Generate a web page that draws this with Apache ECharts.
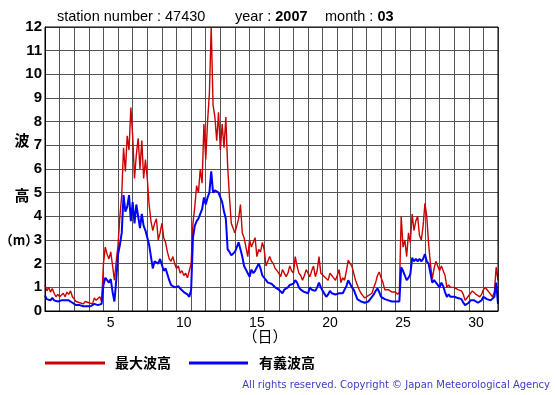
<!DOCTYPE html>
<html><head><meta charset="utf-8">
<script src="https://cdn.jsdelivr.net/npm/echarts@6/dist/echarts.min.js"></script>
<style>html,body{margin:0;padding:0;background:#fff}#c{width:555px;height:395px}</style>
</head><body><div id="c"></div>
<script>
// 3-hourly samples, t = i/8 days from 1st 00:00
const maxWave = [
 1.1,0.85,1.0,0.8,0.95,0.75,0.6,0.7,
 0.6,0.65,0.75,0.6,0.8,0.7,0.85,0.6,
 0.5,0.4,0.45,0.35,0.4,0.3,0.4,0.35,
 0.35,0.4,0.3,0.55,0.45,0.4,0.6,0.4,
 2.0,2.7,2.4,2.2,2.5,1.9,1.3,2.1,
 2.8,4.0,4.9,6.9,5.9,7.4,6.8,8.6,
 7.4,5.6,6.6,7.3,6.0,7.2,5.6,6.4,
 5.6,4.5,3.8,3.4,3.7,3.9,3.0,3.3,
 3.7,3.1,2.9,2.5,2.2,2.1,2.3,2.0,
 1.8,1.9,1.6,1.7,1.5,1.6,1.4,1.7,
 2.0,3.7,4.4,5.3,5.0,6.0,5.4,7.9,
 6.4,8.0,9.2,12.0,8.7,8.2,7.2,8.4,
 6.8,7.9,6.9,8.2,6.1,4.8,3.7,3.5,
 3.3,3.6,3.9,4.5,3.3,3.1,2.7,2.3,
 3.0,2.7,2.65,3.1,2.3,2.6,2.5,2.9,
 2.6,1.9,2.1,2.3,2.1,2.0,1.8,1.75,
 1.6,1.45,1.75,1.6,1.45,1.6,1.9,1.7,
 1.6,2.3,1.9,1.6,1.5,1.3,1.5,1.75,
 1.6,1.45,1.7,1.9,1.45,1.7,2.3,1.6,
 1.6,1.45,1.4,1.3,1.6,1.5,1.4,1.3,
 1.5,1.75,1.2,1.4,1.3,1.7,2.15,2.0,
 1.9,1.6,1.3,1.1,0.9,0.75,0.65,0.55,
 0.6,0.65,0.6,0.75,1.0,1.2,1.5,1.65,
 1.4,1.2,0.9,0.85,0.9,0.85,0.8,0.75,
 0.8,0.7,0.8,4.0,2.7,3.0,2.3,3.3,
 2.9,4.1,3.4,3.8,4.0,3.2,3.0,3.6,
 4.55,4.0,2.85,2.0,1.35,1.8,2.1,1.9,
 1.7,1.9,1.85,1.5,1.0,1.1,1.0,1.0,
 1.0,1.05,0.9,0.95,0.85,0.7,0.45,0.55,
 0.6,0.75,0.85,0.8,0.7,0.75,0.6,0.7,
 0.9,1.0,0.9,0.85,0.7,0.6,0.8,1.85,
 1.3
];
const sigWave = [
 0.65,0.5,0.55,0.45,0.55,0.45,0.45,0.4,
 0.4,0.45,0.4,0.45,0.4,0.45,0.4,0.35,
 0.3,0.25,0.3,0.25,0.2,0.2,0.25,0.2,
 0.2,0.2,0.25,0.3,0.3,0.25,0.3,0.3,
 1.1,1.4,1.3,1.2,1.35,0.8,0.4,1.3,
 2.4,2.8,3.3,4.9,4.2,4.4,4.9,3.8,
 4.6,3.7,4.5,4.0,3.5,4.1,3.6,3.4,
 3.4,2.8,2.3,1.8,2.1,2.1,2.0,2.2,
 2.2,1.7,1.8,1.8,1.3,1.1,1.05,1.0,
 1.0,1.05,0.95,0.9,0.8,0.8,0.7,0.6,
 0.9,3.1,3.6,3.8,3.9,4.1,4.3,4.8,
 4.5,4.8,5.0,5.9,5.0,5.1,5.1,5.0,
 5.0,4.6,4.2,3.9,2.6,2.5,2.35,2.4,
 2.5,2.7,2.9,2.85,2.3,1.9,1.75,1.8,
 1.45,1.75,1.6,1.7,1.7,2.0,1.8,1.5,
 1.45,1.3,1.2,1.2,1.15,1.1,1.0,1.0,
 0.9,0.85,0.75,0.9,0.85,1.0,1.1,1.15,
 1.15,1.3,1.2,1.0,0.9,0.85,0.8,0.75,
 0.75,1.0,0.9,0.95,0.85,1.0,1.2,1.0,
 0.85,0.9,0.6,0.7,0.85,0.75,0.7,0.7,
 0.7,0.75,0.8,0.75,0.75,1.05,1.3,1.15,
 1.0,0.9,0.7,0.5,0.45,0.4,0.35,0.35,
 0.35,0.4,0.4,0.6,0.7,0.85,0.95,0.8,
 0.6,0.55,0.5,0.5,0.45,0.45,0.4,0.45,
 0.4,0.35,0.4,1.85,1.7,1.5,1.3,1.4,
 1.55,2.25,2.1,2.2,2.1,2.2,2.1,2.2,
 2.4,2.1,2.0,1.6,1.2,1.3,1.3,1.1,
 1.0,1.2,1.05,0.8,0.6,0.7,0.6,0.6,
 0.6,0.6,0.55,0.6,0.5,0.35,0.25,0.3,
 0.35,0.45,0.4,0.45,0.4,0.35,0.3,0.45,
 0.6,0.55,0.5,0.5,0.45,0.5,0.6,1.2,
 0.3
];
const dayLabels = [5, 10, 15, 20, 25, 30];
const yTicks = [0,1,2,3,4,5,6,7,8,9,10,11,12];
const seriesNames = ['最大波高', '有義波高'];
const station = '47430', year = '2007', month = '03';

const toXY = arr => arr.map((v, i) => [i / 8, v]);
const chart = echarts.init(document.getElementById('c'), null, {renderer: 'canvas'});
const FONT = '"Liberation Sans", Arial, sans-serif';
const CJK = '"Noto Sans CJK JP", sans-serif';
const rich = {n: {fontSize: 14.5, fontFamily: FONT, fill: '#000'}, b: {fontSize: 14.5, fontFamily: FONT, fontWeight: 'bold', fill: '#000'}};
chart.setOption({
  animation: false,
  backgroundColor: '#fff',
  grid: {left: 45, top: 27, width: 453, height: 284, containLabel: false},
  xAxis: {
    type: 'value', min: 0, max: 31, interval: 1,
    axisLine: {show: true, lineStyle: {color: '#000', width: 1}},
    axisTick: {show: false},
    splitLine: {show: true, lineStyle: {color: '#555', width: 1}},
    axisLabel: {
      customValues: dayLabels.map(d => d - 0.5),
      formatter: v => String(Math.round(v + 0.5)),
      color: '#000', fontSize: 14, fontFamily: FONT, margin: 5
    }
  },
  yAxis: {
    type: 'value', min: 0, max: 12, interval: 1,
    axisLine: {show: true, lineStyle: {color: '#000', width: 1}},
    axisTick: {show: false},
    splitLine: {show: true, lineStyle: {color: '#555', width: 1}},
    axisLabel: {color: '#000', fontSize: 15, fontWeight: 'bold', fontFamily: FONT, margin: 3,
      formatter: v => yTicks.includes(v) ? String(v) : ''}
  },
  series: [
    {name: seriesNames[0], type: 'line', data: toXY(maxWave), showSymbol: false,
     lineStyle: {color: '#cc0000', width: 1.4}, z: 3},
    {name: seriesNames[1], type: 'line', data: toXY(sigWave), showSymbol: false,
     lineStyle: {color: '#0000ff', width: 2}, z: 4}
  ],
  graphic: [
    {type: 'rect', shape: {x: 45, y: 27, width: 453, height: 284}, style: {fill: 'none', stroke: '#000', lineWidth: 1}, z: 10, silent: true},
    {type: 'text', x: 57, y: 17, style: {text: '{n|station number : ' + station + '}', rich: rich, verticalAlign: 'middle'}},
    {type: 'text', x: 235, y: 17, style: {text: '{n|year : }{b|' + year + '}', rich: rich, verticalAlign: 'middle'}},
    {type: 'text', x: 325, y: 17, style: {text: '{n|month : }{b|' + month + '}', rich: rich, verticalAlign: 'middle'}},
    {type: 'text', x: 22, y: 140, style: {text: '波', fontSize: 15, fontWeight: 'bold', fontFamily: CJK, fill: '#000', align: 'center', verticalAlign: 'middle'}},
    {type: 'text', x: 22, y: 195, style: {text: '高', fontSize: 15, fontWeight: 'bold', fontFamily: CJK, fill: '#000', align: 'center', verticalAlign: 'middle'}},
    {type: 'text', x: 19, y: 240, style: {text: '（m）', fontSize: 13, fontWeight: 'bold', fontFamily: CJK, fill: '#000', align: 'center', verticalAlign: 'middle'}},
    {type: 'text', x: 265, y: 336, style: {text: '（日）', fontSize: 15, fontFamily: CJK, fill: '#000', align: 'center', verticalAlign: 'middle'}},
    {type: 'line', shape: {x1: 45, y1: 363, x2: 105, y2: 363}, style: {stroke: '#cc0000', lineWidth: 3}},
    {type: 'text', x: 115, y: 363, style: {text: seriesNames[0], fontSize: 14, fontWeight: 'bold', fontFamily: CJK, fill: '#000', verticalAlign: 'middle'}},
    {type: 'line', shape: {x1: 189, y1: 363, x2: 248, y2: 363}, style: {stroke: '#0000ff', lineWidth: 3}},
    {type: 'text', x: 259, y: 363, style: {text: seriesNames[1], fontSize: 14, fontWeight: 'bold', fontFamily: CJK, fill: '#000', verticalAlign: 'middle'}},
    {type: 'text', x: 550, y: 385, style: {text: 'All rights reserved. Copyright © Japan Meteorological Agency', fontSize: 10, fontFamily: '"DejaVu Sans", sans-serif', fill: '#3a3acc', align: 'right', verticalAlign: 'middle'}}
  ]
});
</script></body></html>
